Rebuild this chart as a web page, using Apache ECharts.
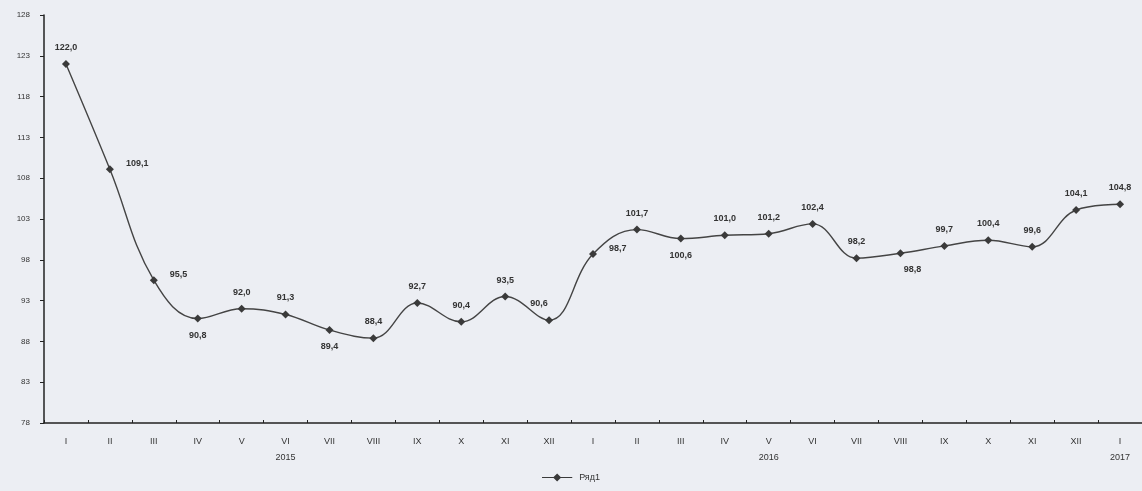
<!DOCTYPE html>
<html><head><meta charset="utf-8">
<script src="https://cdn.jsdelivr.net/npm/echarts@6/dist/echarts.min.js"></script>
<style>html,body{margin:0;padding:0;background:#eceef3;}#c{width:1142px;height:491px;}</style>
</head><body><div id="c"></div>
<script>
const categories = ['I','II','III','IV','V','VI','VII','VIII','IX','X','XI','XII',
  'I','II','III','IV','V','VI','VII','VIII','IX','X','XI','XII','I'];
const yearLabels = ['','','','','','2015','','','','','','',
  '','','','','2016','','','','','','','','2017'];
const seriesName = 'Ряд1';
const values = [122.0,109.1,95.5,90.8,92.0,91.3,89.4,88.4,92.7,90.4,93.5,90.6,
  98.7,101.7,100.6,101.0,101.2,102.4,98.2,98.8,99.7,100.4,99.6,104.1,104.8];
const yTicks = [78,83,88,93,98,103,108,113,118,123,128];

const labelPlace = ['top','right','right','bottom','top','top','bottom','top','top','top','top','topLeft',
  'right','top','bottom','top','top','top','top','bottomRight','top','top','top','top','top'];
function labelCfg(p){
  if(p==='topLeft') return {position:'top', offset:[-10,0]};
  if(p==='bottomRight') return {position:'bottom', offset:[12,0]};
  if(p==='right') return {position:'right', offset:[4,-6]};
  return {position:p};
}
const chart = echarts.init(document.getElementById('c'));
const fmt = v => v.toFixed(1).replace('.', ',');
chart.setOption({
  backgroundColor:'#eceef3',
  animation:false,
  textStyle:{fontFamily:'Liberation Sans, Arial, sans-serif'},
  grid:{left:44,right:0,top:15,bottom:68},
  legend:{bottom:4,left:'center',itemWidth:34,itemHeight:8,
    textStyle:{fontSize:9,color:'#333'},data:[{name:seriesName,icon:'path://M0,4L13,4L17,0L21,4L34,4L34,5L21,5L17,9L13,5L0,5Z'}]},
  xAxis:[{type:'category',data:categories,boundaryGap:true,
    axisLine:{lineStyle:{color:'#222',width:1.5}},
    axisTick:{show:true,length:3,inside:true,lineStyle:{color:'#222'}},
    axisLabel:{color:'#333',fontSize:9,margin:14,interval:0}},
   {type:'category',data:yearLabels,position:'bottom',offset:22,boundaryGap:true,
    axisLine:{show:false},axisTick:{show:false},
    axisLabel:{color:'#333',fontSize:9,interval:0}}],
  yAxis:{type:'value',min:78,max:128,
    axisLine:{show:true,lineStyle:{color:'#222',width:1.5}},
    axisTick:{show:true,length:4,customValues:yTicks,lineStyle:{color:'#222'}},
    axisLabel:{color:'#333',fontSize:8,margin:14,customValues:yTicks},
    splitLine:{show:false}},
  series:[{name:seriesName,type:'line',smooth:0.4,
    symbol:'diamond',symbolSize:8,
    itemStyle:{color:'#3a3a3a'},lineStyle:{color:'#444',width:1.4},
    data:values.map((v,i)=>({value:v,label:labelCfg(labelPlace[i])})),
    label:{show:true,fontSize:9,fontWeight:'bold',color:'#333',distance:8,formatter:p=>fmt(p.value)}}]
});
</script></body></html>
